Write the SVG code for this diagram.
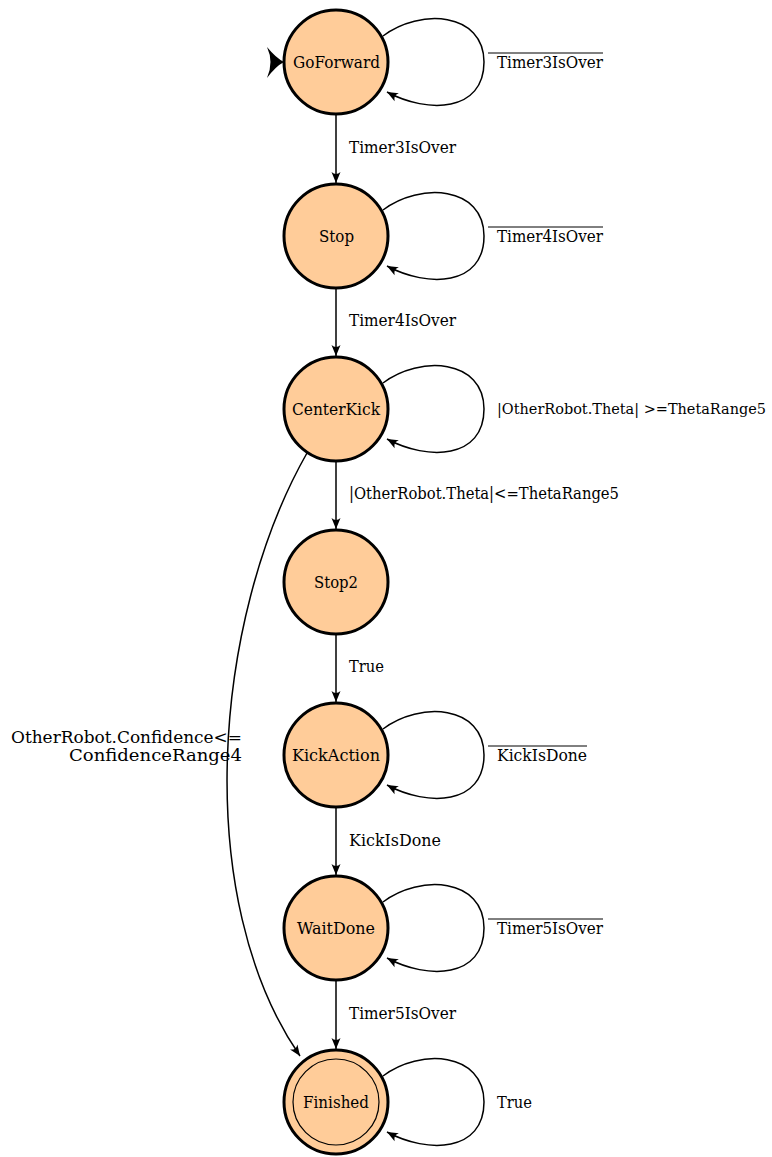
<svg xmlns="http://www.w3.org/2000/svg" width="772" height="1157" viewBox="0 0 772 1157" font-family="'DejaVu Serif', 'Liberation Serif', serif" font-size="16">
<style>
.node{fill:#FFCC99;stroke:#000;stroke-width:3}
.inner{fill:none;stroke:#000;stroke-width:1.2}
.edge{fill:none;stroke:#000;stroke-width:1.5}
.ol{stroke:#000;stroke-width:1}
</style>
<defs>
<marker id="ah" markerUnits="userSpaceOnUse" markerWidth="14" markerHeight="12" viewBox="-12 -6 14 12" refX="0" refY="0" orient="auto">
<path d="M0,0 L-11,-4.5 Q-7,0 -11,4.5 Z" fill="#000"/>
</marker>
</defs>
<g id="connectors">
<path d="M267,47 Q276,58 284,62 Q276,66 267,78 Q274,62 267,47 Z" fill="#000"/>
<line class="edge" x1="336" y1="114" x2="336" y2="183" marker-end="url(#ah)"/>
<line class="edge" x1="336" y1="288" x2="336" y2="356" marker-end="url(#ah)"/>
<line class="edge" x1="336" y1="461" x2="336" y2="529" marker-end="url(#ah)"/>
<line class="edge" x1="336" y1="634" x2="336" y2="702" marker-end="url(#ah)"/>
<line class="edge" x1="336" y1="807" x2="336" y2="875" marker-end="url(#ah)"/>
<line class="edge" x1="336" y1="980" x2="336" y2="1049" marker-end="url(#ah)"/>
<path class="edge" d="M383,36 C420,8 484,12 484,62 C484,112 428,114 387,92" marker-end="url(#ah)"/>
<path class="edge" d="M383,210 C420,182 484,186 484,236 C484,286 428,288 387,266" marker-end="url(#ah)"/>
<path class="edge" d="M383,383 C420,355 484,359 484,409 C484,459 428,461 387,439" marker-end="url(#ah)"/>
<path class="edge" d="M383,729 C420,701 484,705 484,755 C484,805 428,807 387,785" marker-end="url(#ah)"/>
<path class="edge" d="M383,902 C420,874 484,878 484,928 C484,978 428,980 387,958" marker-end="url(#ah)"/>
<path class="edge" d="M383,1076 C420,1048 484,1052 484,1102 C484,1152 428,1154 387,1132" marker-end="url(#ah)"/>
<path class="edge" d="M307,453 C212,620 192,900 300,1056" marker-end="url(#ah)"/>
<text x="349" y="153" textLength="107" lengthAdjust="spacingAndGlyphs">Timer3IsOver</text>
<text x="349" y="326" textLength="107" lengthAdjust="spacingAndGlyphs">Timer4IsOver</text>
<text x="349" y="499" textLength="270" lengthAdjust="spacingAndGlyphs">|OtherRobot.Theta|&lt;=ThetaRange5</text>
<text x="349" y="672" textLength="35" lengthAdjust="spacingAndGlyphs">True</text>
<text x="349" y="846" textLength="92" lengthAdjust="spacingAndGlyphs">KickIsDone</text>
<text x="349" y="1019" textLength="107" lengthAdjust="spacingAndGlyphs">Timer5IsOver</text>
<line class="ol" x1="488" y1="53" x2="603" y2="53"/>
<text x="497" y="68" textLength="106" lengthAdjust="spacingAndGlyphs">Timer3IsOver</text>
<line class="ol" x1="488" y1="227" x2="603" y2="227"/>
<text x="497" y="242" textLength="106" lengthAdjust="spacingAndGlyphs">Timer4IsOver</text>
<text x="497" y="414" font-size="14" textLength="269" lengthAdjust="spacingAndGlyphs">|OtherRobot.Theta| &gt;=ThetaRange5</text>
<line class="ol" x1="488" y1="746" x2="587" y2="746"/>
<text x="497" y="761" textLength="90" lengthAdjust="spacingAndGlyphs">KickIsDone</text>
<line class="ol" x1="488" y1="919" x2="603" y2="919"/>
<text x="497" y="934" textLength="106" lengthAdjust="spacingAndGlyphs">Timer5IsOver</text>
<text x="497" y="1108" textLength="35" lengthAdjust="spacingAndGlyphs">True</text>
<text x="11" y="743" textLength="231" lengthAdjust="spacingAndGlyphs">OtherRobot.Confidence&lt;=</text>
<text x="69" y="761" textLength="173" lengthAdjust="spacingAndGlyphs">ConfidenceRange4</text>
</g>
<g id="GoForward"><circle class="node" cx="336" cy="62" r="52"/><text x="293" y="68" textLength="87" lengthAdjust="spacingAndGlyphs">GoForward</text></g>
<g id="Stop"><circle class="node" cx="336" cy="236" r="52"/><text x="319" y="242" textLength="35" lengthAdjust="spacingAndGlyphs">Stop</text></g>
<g id="CenterKick"><circle class="node" cx="336" cy="409" r="52"/><text x="292" y="415" textLength="88" lengthAdjust="spacingAndGlyphs">CenterKick</text></g>
<g id="Stop2"><circle class="node" cx="336" cy="582" r="52"/><text x="314" y="588" textLength="44" lengthAdjust="spacingAndGlyphs">Stop2</text></g>
<g id="KickAction"><circle class="node" cx="336" cy="755" r="52"/><text x="292" y="761" textLength="88" lengthAdjust="spacingAndGlyphs">KickAction</text></g>
<g id="WaitDone"><circle class="node" cx="336" cy="928" r="52"/><text x="297" y="934" textLength="78" lengthAdjust="spacingAndGlyphs">WaitDone</text></g>
<g id="Finished"><circle class="node" cx="336" cy="1102" r="52"/><circle class="inner" cx="336" cy="1102" r="43"/><text x="303" y="1108" textLength="66" lengthAdjust="spacingAndGlyphs">Finished</text></g>
</svg>
